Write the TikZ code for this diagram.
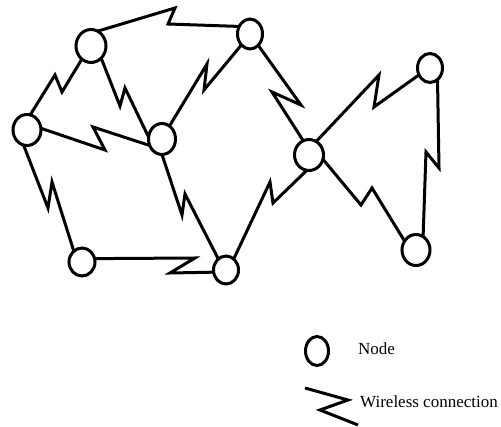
\documentclass[tikz,border=0pt]{standalone}
\usepackage{fontspec}
\setmainfont{Liberation Serif}
\usetikzlibrary{shapes.geometric}
\begin{document}
\begin{tikzpicture}[x=1pt,y=-1pt,
  nd/.style={draw,ellipse,line width=3pt,inner sep=0pt,outer sep=0pt},
  wl/.style={line width=3pt,line join=miter},
  lbl/.style={anchor=base west,inner sep=0pt,font=\fontsize{17}{20}\selectfont}]
\useasboundingbox (0,0) rectangle (501,427);
% nodes
\node[nd,minimum width=30pt,minimum height=33pt] (A) at (91,46) {};
\node[nd,minimum width=25pt,minimum height=30pt] (B) at (250,34) {};
\node[nd,minimum width=28pt,minimum height=31pt] (C) at (27,130) {};
\node[nd,minimum width=27pt,minimum height=31pt] (D) at (162,139) {};
\node[nd,minimum width=29pt,minimum height=31pt] (E) at (309,155) {};
\node[nd,minimum width=25pt,minimum height=29pt] (F) at (430,68) {};
\node[nd,minimum width=26pt,minimum height=28pt] (G) at (82,262) {};
\node[nd,minimum width=25pt,minimum height=28pt] (H) at (226,270) {};
\node[nd,minimum width=28pt,minimum height=31pt] (I) at (416,250) {};
% zigzag points
\coordinate (ab1) at (175,8);   \coordinate (ab2) at (168,24);
\coordinate (ca1) at (55,75);   \coordinate (ca2) at (62,92);
\coordinate (ad1) at (120,106); \coordinate (ad2) at (125,88);
\coordinate (cd1) at (105,150); \coordinate (cd2) at (93,127);
\coordinate (db1) at (207,64);  \coordinate (db2) at (204,90);
\coordinate (be1) at (301,105); \coordinate (be2) at (272,92);
\coordinate (ef1) at (379,75);  \coordinate (ef2) at (374,107);
\coordinate (fi1) at (439,168); \coordinate (fi2) at (426,152);
\coordinate (ei1) at (361,205); \coordinate (ei2) at (372,188);
\coordinate (eh1) at (273,203); \coordinate (eh2) at (270,182);
\coordinate (dh1) at (182,215); \coordinate (dh2) at (185,194);
\coordinate (cg1) at (48,208);  \coordinate (cg2) at (52,182);
\coordinate (gh1) at (195,258); \coordinate (gh2) at (170,273);
% connections
\draw[wl] (A.66) -- (ab1) -- (ab2) -- (B.145);
\draw[wl] (C.78) -- (ca1) -- (ca2) -- (A.235);
\draw[wl] (A.310) -- (ad1) -- (ad2) -- (D.172);
\draw[wl] (C.7) -- (cd1) -- (cd2) -- (D.208);
\draw[wl] (D.60) -- (db1) -- (db2) -- (B.232);
\draw[wl] (B.306) -- (be1) -- (be2) -- (E.112);
\draw[wl] (E.62) -- (ef1) -- (ef2) -- (F.212);
\draw[wl] (F.303) -- (fi1) -- (fi2) -- (I.62);
\draw[wl] (E.343) -- (ei1) -- (ei2) -- (I.142);
\draw[wl] (E.262) -- (eh1) -- (eh2) -- (H.55);
\draw[wl] (D.270) -- (dh1) -- (dh2) -- (H.125);
\draw[wl] (C.257) -- (cg1) -- (cg2) -- (G.127);
\draw[wl] (G.15) -- (gh1) -- (gh2) -- (H.190);
% legend
\node[nd,minimum width=23pt,minimum height=29pt] (LN) at (317,351) {};
\node[lbl] (LNt) at (358,355) {Node};
\coordinate (lz0) at (305,388); \coordinate (lz1) at (348,400);
\coordinate (lz2) at (320,410); \coordinate (lz3) at (358,425);
\draw[wl] (lz0) -- (lz1) -- (lz2) -- (lz3);
\node[lbl] (LWt) at (360,408) {Wireless connection};
\end{tikzpicture}
\end{document}
